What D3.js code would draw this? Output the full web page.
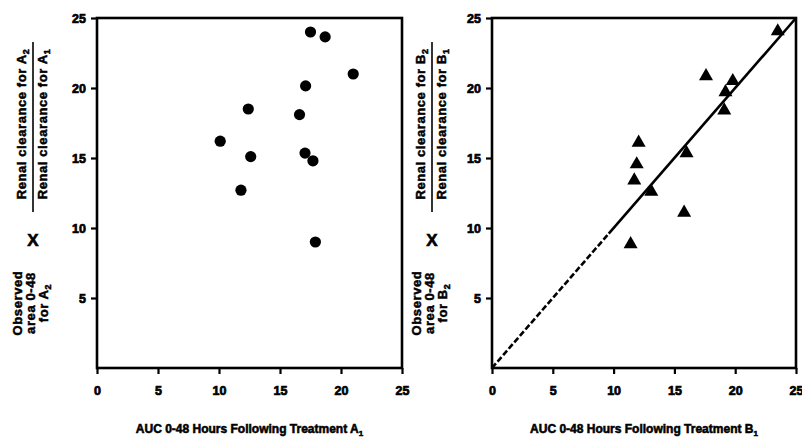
<!DOCTYPE html>
<html>
<head>
<meta charset="utf-8">
<script src="https://cdn.jsdelivr.net/npm/d3@7"></script>
<style>
  html, body { margin: 0; padding: 0; background: #fff; }
  svg text { font-family: "Liberation Sans", Arial, Helvetica, sans-serif; font-weight: bold; fill: #000; }
</style>
</head>
<body>
<svg id="chart" width="802" height="438"></svg>
<script>
// ---- data ----
const xTicks = [0, 5, 10, 15, 20, 25];
const yTicks = [5, 10, 15, 20, 25];
const axisDomain = [0, 25];

// Panel A: circles
const aucA1 = [17.5, 18.7, 21.0, 17.1, 12.4, 16.6, 10.1, 12.6, 17.05, 17.7, 11.8, 17.9];
const ratioA = [24.0, 23.65, 21.0, 20.15, 18.5, 18.1, 16.2, 15.1, 15.35, 14.8, 12.7, 9.0];

// Panel B: triangles
const aucB1 = [17.6, 19.8, 19.2, 19.1, 23.5, 12.06, 11.9, 11.7, 16.0, 13.1, 15.8, 11.4];
const ratioB = [20.85, 20.5, 19.7, 18.4, 24.05, 16.1, 14.55, 13.4, 15.35, 12.6, 11.1, 8.85];

// Line of identity in panel B (dashed part, solid part)
const lineDashed = [[0, 0], [9.6, 9.6]];
const lineSolid = [[9.6, 9.6], [25, 25]];

const titleA = ["AUC 0-48 Hours Following Treatment A", "1"];
const titleB = ["AUC 0-48 Hours Following Treatment B", "1"];
const numA = ["Renal clearance for A", "2"], denA = ["Renal clearance for A", "1"];
const numB = ["Renal clearance for B", "2"], denB = ["Renal clearance for B", "1"];
const obsA = ["Observed", "area 0-48", ["for A", "2"]];
const obsB = ["Observed", "area 0-48", ["for B", "2"]];

// ---- drawing ----
const svg = d3.select("#chart");

function subText(sel, parts, subSize) {
  sel.append("tspan").text(parts[0]);
  sel.append("tspan").attr("dy", 3).attr("font-size", subSize).text(parts[1]);
}

function labelText(parent, tx, ty) {
  return parent.append("text")
    .attr("transform", `translate(${tx},${ty}) rotate(-90)`)
    .attr("text-anchor", "middle").attr("font-size", 13)
    .attr("letter-spacing", 0.6)
    .attr("stroke", "#000").attr("stroke-width", 0.5);
}

function panel(opts) {
  const x = d3.scaleLinear().domain(axisDomain).range([opts.x0, opts.x1]);
  const y = d3.scaleLinear().domain(axisDomain).range([368, 18]);
  const g = svg.append("g");

  // frame
  g.append("rect")
    .attr("x", x(0)).attr("y", y(25))
    .attr("width", x(25) - x(0)).attr("height", y(0) - y(25))
    .attr("fill", "none").attr("stroke", "#000").attr("stroke-width", 2.6);

  // axes
  const xa = g.append("g").attr("transform", `translate(0,${y(0)})`)
    .call(d3.axisBottom(x).tickValues(xTicks).tickSize(6).tickPadding(10));
  const ya = g.append("g").attr("transform", `translate(${x(0)},0)`)
    .call(d3.axisLeft(y).tickValues(yTicks).tickSize(6).tickPadding(5));
  [xa, ya].forEach(a => {
    a.select(".domain").remove();
    a.selectAll(".tick line").attr("stroke", "#000").attr("stroke-width", 2.2);
    a.selectAll(".tick text")
      .attr("font-size", 12.5).attr("fill", "#000")
      .attr("stroke", "#000").attr("stroke-width", 0.7)
      .attr("font-family", "'Liberation Sans', Arial, sans-serif").attr("font-weight", "bold");
  });
  xa.selectAll(".tick text").attr("dy", "0.9em");

  opts.marks(g, x, y);

  // x title
  const t = g.append("text")
    .attr("x", (x(0) + x(25)) / 2).attr("y", 433)
    .attr("text-anchor", "middle").attr("font-size", 12)
    .attr("stroke", "#000").attr("stroke-width", 0.55);
  subText(t, opts.title, 8);

  // y label
  const lx = opts.lx;
  const yl = g.append("g");
  subText(labelText(yl, lx + 26, 124), opts.num, 9);
  yl.append("line")
    .attr("x1", lx + 33).attr("x2", lx + 33)
    .attr("y1", 42).attr("y2", 212)
    .attr("stroke", "#000").attr("stroke-width", 1.6);
  subText(labelText(yl, lx + 47, 124), opts.den, 9);

  yl.append("text")
    .attr("x", lx + 33).attr("y", 246)
    .attr("text-anchor", "middle").attr("font-size", 17)
    .attr("stroke", "#000").attr("stroke-width", 0.6)
    .text("X");

  const obs = opts.obs;
  [0, 1, 2].forEach(i => {
    const tt = labelText(yl, lx + 22 + i * 13, 303);
    if (Array.isArray(obs[i])) subText(tt, obs[i], 9);
    else tt.text(obs[i]);
  });
}

panel({
  x0: 97, x1: 402, lx: 0,
  title: titleA, num: numA, den: denA, obs: obsA,
  marks: (g, x, y) => {
    g.selectAll("circle.pt").data(aucA1.map((v, i) => [v, ratioA[i]]))
      .join("circle").attr("class", "pt")
      .attr("cx", d => x(d[0])).attr("cy", d => y(d[1]))
      .attr("r", 5.6).attr("fill", "#000");
  }
});

panel({
  x0: 492, x1: 796, lx: 399,
  title: titleB, num: numB, den: denB, obs: obsB,
  marks: (g, x, y) => {
    const line = d3.line().x(d => x(d[0])).y(d => y(d[1]));
    g.append("path").attr("d", line(lineDashed))
      .attr("fill", "none").attr("stroke", "#000").attr("stroke-width", 2.6)
      .attr("stroke-dasharray", "6,2.5");
    g.append("path").attr("d", line(lineSolid))
      .attr("fill", "none").attr("stroke", "#000").attr("stroke-width", 2.6);
    const tri = d3.symbol().type(d3.symbolTriangle).size(85);
    g.selectAll("path.pt").data(aucB1.map((v, i) => [v, ratioB[i]]))
      .join("path").attr("class", "pt")
      .attr("d", tri)
      .attr("transform", d => `translate(${x(d[0])},${y(d[1])})`)
      .attr("fill", "#000");
  }
});
</script>
</body>
</html>
